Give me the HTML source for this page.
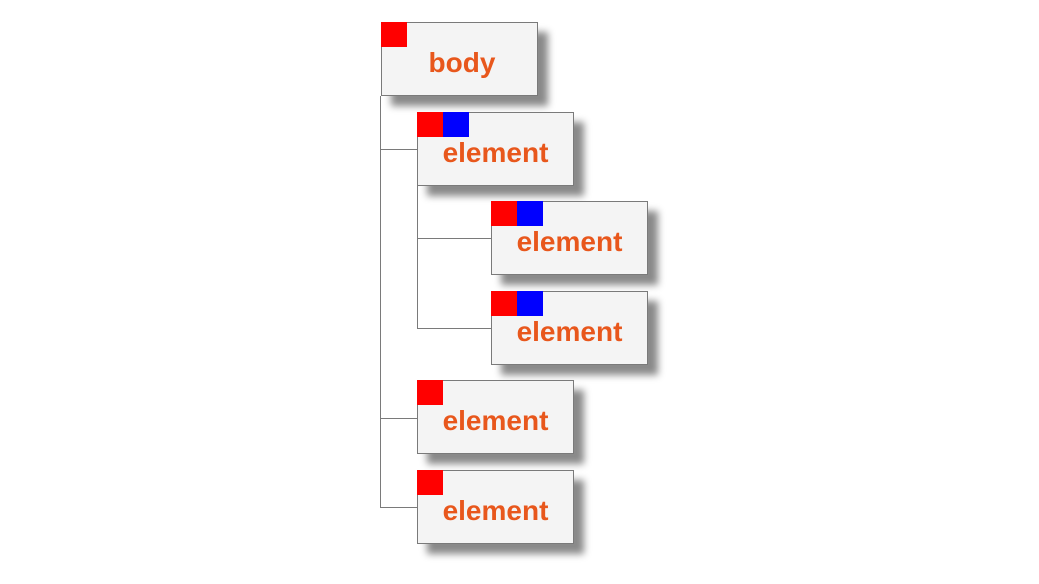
<!DOCTYPE html>
<html><head><style>
body{margin:0;width:1039px;height:584px;background:#fff;position:relative;overflow:hidden;font-family:"Liberation Sans",sans-serif}
.b{position:absolute;width:155px;height:72px;background:#f4f4f4;border:1px solid #7a7a7a;box-shadow:10px 10px 7px #8a8a8a}
.t{position:absolute;left:0;right:0;top:24px;text-align:center;color:#e8571c;font-weight:bold;font-size:28px;line-height:32px}
.r,.u{position:absolute;top:-1px;width:26px;height:25px;background:#f00}
.u{background:#00f;left:25px}
.r{left:-1px}
.l{position:absolute;background:#7a7a7a}
</style></head><body>
<div class="l" style="left:380px;top:96px;width:1px;height:412px"></div>
<div class="l" style="left:380px;top:149px;width:37px;height:1px"></div>
<div class="l" style="left:380px;top:418px;width:37px;height:1px"></div>
<div class="l" style="left:380px;top:507px;width:37px;height:1px"></div>
<div class="l" style="left:417px;top:186px;width:1px;height:142px"></div>
<div class="l" style="left:417px;top:238px;width:74px;height:1px"></div>
<div class="l" style="left:417px;top:328px;width:74px;height:1px"></div>

<div class="b" style="left:381px;top:22px"><div class="r"></div><div class="t" style="top:24px;padding-left:5px">body</div></div>
<div class="b" style="left:417px;top:112px"><div class="r"></div><div class="u"></div><div class="t">element</div></div>
<div class="b" style="left:491px;top:201px"><div class="r"></div><div class="u"></div><div class="t">element</div></div>
<div class="b" style="left:491px;top:291px"><div class="r"></div><div class="u"></div><div class="t">element</div></div>
<div class="b" style="left:417px;top:380px"><div class="r"></div><div class="t">element</div></div>
<div class="b" style="left:417px;top:470px"><div class="r"></div><div class="t">element</div></div>
</body></html>
